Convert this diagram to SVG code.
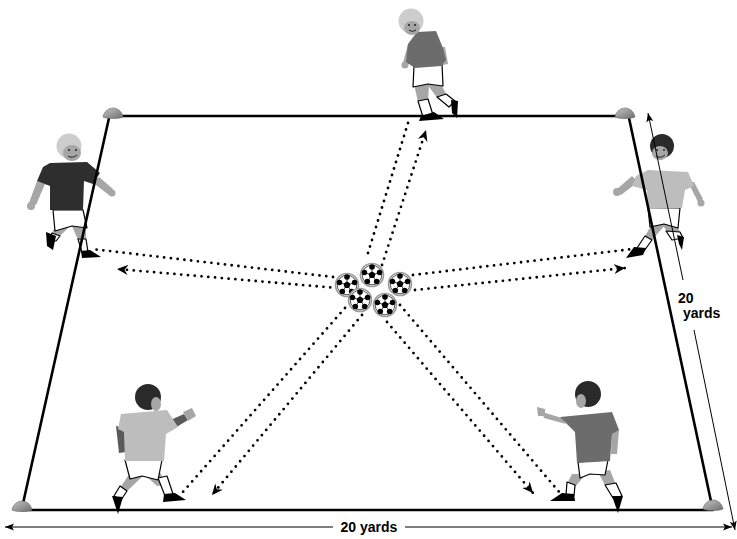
<svg xmlns="http://www.w3.org/2000/svg" xmlns:xlink="http://www.w3.org/1999/xlink" width="737" height="539" viewBox="0 0 737 539">
<style>
.field{fill:none;stroke:#000;stroke-width:2.6;stroke-linecap:round}
.dot{fill:none;stroke:#000;stroke-width:2.8;stroke-dasharray:0 6.8;stroke-linecap:round}
.dim{fill:none;stroke:#000;stroke-width:1}
.lbl{font-family:"Liberation Sans",Arial,sans-serif;font-weight:bold;font-size:14px;fill:#000}
.skin{fill:#a6a6a6}
.wht{fill:#fff;stroke:#000;stroke-width:1.2;stroke-linejoin:round}
.shoe{fill:#000}
.dk{fill:#2e2e2e}
.md{fill:#6c6c6c}
.lt{fill:#bdbdbd}
.hairL{fill:#cdcdcd}
.hairD{fill:#2a2a2a}
.feat{fill:none;stroke:#222;stroke-width:1}
</style>
<defs>
<linearGradient id="coneg" x1="0" y1="0" x2="1" y2="1">
<stop offset="0" stop-color="#c4c4c4"/><stop offset="1" stop-color="#6e6e6e"/>
</linearGradient>
<g id="cone"><path d="M-10,3 C-9,-3 -4,-6 0,-6 C4,-6 9,-3 10,3 C6,5 -6,5 -10,3 Z" fill="url(#coneg)" stroke="#666" stroke-width="0.6"/></g>
<g id="ball">
<circle r="11.5" fill="#fff" stroke="#9a9a9a" stroke-width="1.6"/>
<circle r="9.8" fill="none" stroke="#222" stroke-width="0.8"/>
<polygon points="0,-3.8 3.6,-1.2 2.2,3.1 -2.2,3.1 -3.6,-1.2" fill="#000"/>
<g stroke="#000" stroke-width="0.7"><line x1="0" y1="-3.6" x2="0" y2="-7.5"/><line x1="3.4" y1="-1.1" x2="7.1" y2="-2.3"/><line x1="2.1" y1="2.9" x2="4.4" y2="6.1"/><line x1="-2.1" y1="2.9" x2="-4.4" y2="6.1"/><line x1="-3.4" y1="-1.1" x2="-7.1" y2="-2.3"/></g>
<g fill="#000"><circle cx="0" cy="-8" r="2.8"/><circle cx="7.6" cy="-2.5" r="2.8"/><circle cx="4.7" cy="6.5" r="2.8"/><circle cx="-4.7" cy="6.5" r="2.8"/><circle cx="-7.6" cy="-2.5" r="2.8"/></g>
</g>
<marker id="ah" markerWidth="12" markerHeight="10" refX="11" refY="5" orient="auto" markerUnits="userSpaceOnUse"><path d="M0,0 L11,5 L0,10 L3.5,5 Z" fill="#000"/></marker>
<marker id="dh" markerWidth="10" markerHeight="8" refX="9" refY="4" orient="auto-start-reverse" markerUnits="userSpaceOnUse"><path d="M0,0.5 L9,4 L0,7.5 L2,4 Z" fill="#000"/></marker>
</defs>

<g id="player-top">
<polygon class="skin" points="414,84 429,85 428,101 418,102"/>
<polygon class="skin" points="427,84 442,86 447,96 438,99"/>
<polygon class="wht" points="418,101 428,99 433,115 423,117"/>
<polygon class="wht" points="437,97 446,94 455,101 449,107"/>
<polygon class="shoe" points="421,116 434,112 444,119 419,121"/>
<polygon class="shoe" points="451,100 458,101 457,118 452,113"/>
<polygon class="wht" points="414,66 442,64 443,86 428,84 413,87"/>
<polygon class="skin" points="408,44 413,46 409,64 403,63"/>
<circle class="skin" cx="405" cy="65" r="3.5"/>
<polygon class="skin" points="440,47 445,47 448,64 443,65"/>
<polygon class="md" points="417,32 436,31 443,48 446,60 441,66 415,68 406,62 408,44"/>
<circle class="hairL" cx="411" cy="21" r="12.5"/>
<ellipse class="skin" cx="412" cy="28" rx="8" ry="7"/>
<circle cx="409" cy="25" r="1" fill="#222"/><circle cx="415" cy="25" r="1" fill="#222"/>
<path class="feat" d="M409,30 Q412,33 416,30"/>
</g>

<g id="player-left">
<polygon class="skin" points="37,181 45,184 36,205 29,203"/>
<circle class="skin" cx="31" cy="206" r="4"/>
<polygon class="skin" points="92,182 99,177 113,189 109,195"/>
<circle class="skin" cx="112" cy="193" r="3.5"/>
<polygon class="skin" points="55,226 70,226 60,236 52,234"/>
<polygon class="wht" points="52,233 60,236 56,241 49,240"/>
<polygon class="shoe" points="46,232 56,236 53,250 47,246"/>
<polygon class="skin" points="72,226 86,228 86,240 78,240"/>
<polygon class="wht" points="78,239 86,239 88,252 82,252"/>
<polygon class="shoe" points="81,251 90,250 101,257 82,258"/>
<polygon class="wht" points="53,210 83,210 87,228 72,226 55,231"/>
<polygon class="dk" points="50,163 87,162 100,173 93,184 84,181 83,210 50,210 50,186 37,181 43,167"/>
<circle class="hairL" cx="69" cy="146" r="12.5"/>
<ellipse class="skin" cx="72" cy="153" rx="9" ry="8"/>
<circle cx="69" cy="150" r="1" fill="#222"/><circle cx="76" cy="150" r="1" fill="#222"/>
<path class="feat" d="M68,156 Q72,159 77,155"/>
</g>

<g id="player-right">
<polygon class="skin" points="632,176 638,182 621,195 616,190"/>
<circle class="skin" cx="617" cy="192" r="4"/>
<polygon class="skin" points="688,182 694,182 703,199 698,202"/>
<circle class="skin" cx="701" cy="203" r="3.5"/>
<polygon class="skin" points="652,224 666,224 652,240 645,236"/>
<polygon class="wht" points="645,236 652,240 644,251 637,248"/>
<polygon class="shoe" points="634,247 646,248 643,255 626,258"/>
<polygon class="skin" points="662,224 677,226 681,234 668,233"/>
<polygon class="wht" points="666,231 680,232 683,238 672,240"/>
<polygon class="shoe" points="677,235 684,237 682,250 679,244"/>
<polygon class="wht" points="648,208 680,208 678,228 664,224 650,227"/>
<polygon class="lt" points="648,170 688,172 694,186 685,190 682,208 648,209 647,190 632,186 636,176"/>
<circle class="hairD" cx="662" cy="146" r="12"/>
<ellipse class="skin" cx="660" cy="153" rx="8" ry="7"/>
<circle cx="657" cy="150" r="1" fill="#222"/><circle cx="664" cy="150" r="1" fill="#222"/>
<path class="feat" d="M656,156 Q660,159 665,155"/>
</g>

<g id="player-bottom-left">
<polygon fill="#5a5a5a" points="116,426 124,428 126,452 119,453"/>
<polygon fill="#5a5a5a" points="166,422 184,414 188,420 170,431"/>
<polygon class="skin" points="183,412 192,408 196,416 188,421"/>
<polygon class="skin" points="128,476 143,476 126,492 120,488"/>
<polygon class="wht" points="120,486 127,491 121,500 114,496"/>
<polygon class="shoe" points="112,496 123,497 118,514"/>
<polygon class="skin" points="145,475 160,472 166,485 157,486"/>
<polygon class="wht" points="158,478 167,476 173,494 165,496"/>
<polygon class="shoe" points="164,494 175,493 186,500 163,502"/>
<polygon class="wht" points="125,460 162,460 158,480 142,476 130,479"/>
<polygon class="lt" points="121,414 167,410 178,427 166,434 164,461 125,461 124,432 118,429"/>
<circle class="hairD" cx="148" cy="397" r="13"/>
<ellipse class="skin" cx="156" cy="404" rx="5" ry="7"/>
</g>

<g id="player-bottom-right">
<polygon class="skin" points="562,418 566,424 544,418 542,412"/>
<polygon class="skin" points="537,407 545,409 545,416 538,416"/>
<polygon class="skin" points="612,426 619,430 617,454 611,454"/>
<polygon class="skin" points="598,472 610,470 616,485 606,487"/>
<polygon class="wht" points="605,485 616,483 622,496 613,498"/>
<polygon class="shoe" points="612,496 623,496 618,513"/>
<polygon class="skin" points="572,474 586,474 575,487 567,484"/>
<polygon class="wht" points="567,482 575,485 574,496 566,495"/>
<polygon class="shoe" points="562,493 574,494 575,501 550,501"/>
<polygon class="wht" points="578,462 608,460 605,475 590,474 580,478"/>
<polygon class="md" points="560,417 612,412 619,430 612,434 610,461 577,463 575,432"/>
<circle class="hairD" cx="588" cy="394" r="13"/>
<ellipse class="skin" cx="581" cy="401" rx="5" ry="7"/>
</g>

<g id="field">
<line class="field" x1="113" y1="116" x2="625" y2="116"/>
<line class="field" x1="22" y1="510" x2="713" y2="510"/>
<line class="field" x1="109" y1="118" x2="22" y2="508"/>
<line class="field" x1="629" y1="118" x2="712" y2="506"/>
</g>
<g id="cones">
<use xlink:href="#cone" x="113" y="114"/>
<use xlink:href="#cone" x="625" y="114"/>
<use xlink:href="#cone" x="22" y="507"/>
<use xlink:href="#cone" x="713" y="506"/>
</g>

<g id="connectors">
<line class="dot" x1="368" y1="253" x2="408" y2="123"/>
<line class="dot" x1="382" y1="265" x2="426" y2="130" marker-end="url(#ah)"/>
<line class="dot" x1="333" y1="277" x2="92" y2="249"/>
<line class="dot" x1="337" y1="288" x2="117" y2="269" marker-end="url(#ah)"/>
<line class="dot" x1="413" y1="275" x2="633" y2="249"/>
<line class="dot" x1="415" y1="290" x2="625" y2="268" marker-end="url(#ah)"/>
<line class="dot" x1="345" y1="308" x2="182" y2="493"/>
<line class="dot" x1="362" y1="315" x2="212" y2="495" marker-end="url(#ah)"/>
<line class="dot" x1="387" y1="322" x2="533" y2="493" marker-end="url(#ah)"/>
<line class="dot" x1="400" y1="305" x2="560" y2="493"/>
</g>

<g id="balls">
<use xlink:href="#ball" x="347" y="285"/>
<use xlink:href="#ball" x="372" y="275"/>
<use xlink:href="#ball" x="400" y="284"/>
<use xlink:href="#ball" x="360" y="300"/>
<use xlink:href="#ball" x="385" y="305"/>
</g>

<g id="dimensions">
<line class="dim" x1="5" y1="527" x2="333" y2="527" marker-start="url(#dh)"/>
<line class="dim" x1="405" y1="527" x2="732" y2="527" marker-end="url(#dh)"/>
<text class="lbl" x="369" y="532" text-anchor="middle">20 yards</text>
<line class="dim" x1="648" y1="113" x2="683" y2="280" marker-start="url(#dh)"/>
<line class="dim" x1="694" y1="330" x2="735" y2="530" marker-end="url(#dh)"/>
<text class="lbl" x="678" y="303">20</text>
<text class="lbl" x="683" y="318">yards</text>
</g>
</svg>
